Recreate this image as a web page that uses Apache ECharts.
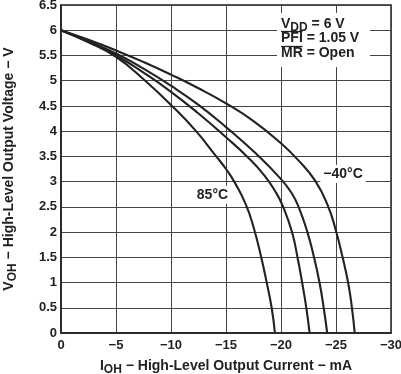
<!DOCTYPE html>
<html><head><meta charset="utf-8">
<script src="https://cdn.jsdelivr.net/npm/echarts@6/dist/echarts.min.js"></script>
<style>html,body{margin:0;padding:0;background:#fff}#c{width:401px;height:374px}</style>
</head><body><div id="c"></div>
<script>
// I_OH (mA), V_OH (V)
const curveM40 = [[0,6],[-2.5,5.81],[-5,5.6],[-7.5,5.37],[-10,5.12],[-12.5,4.85],[-15,4.55],[-17.5,4.2],[-20,3.76],[-21.5,3.44],[-23.1,3.02],[-24.3,2.5],[-25,2.02],[-25.6,1.5],[-26.1,1.0],[-26.45,0.5],[-26.7,0]];
const curveB = [[0,6],[-2.5,5.78],[-5,5.54],[-7.5,5.24],[-10,4.9],[-12.5,4.52],[-15,4.08],[-17.5,3.6],[-20,3.05],[-21,2.76],[-21.6,2.5],[-22.4,2.0],[-23.0,1.5],[-23.5,1.0],[-23.88,0.5],[-24.2,0]];
const curveC = [[0,6],[-2.5,5.77],[-5,5.5],[-7.5,5.16],[-10,4.78],[-12.5,4.35],[-15,3.88],[-17,3.48],[-18.5,3.12],[-19.5,2.8],[-20.2,2.5],[-21,2.0],[-21.5,1.5],[-21.92,1.0],[-22.3,0.5],[-22.6,0]];
const curve85 = [[0,6],[-2.5,5.76],[-5,5.47],[-7.5,5.03],[-10,4.52],[-12.2,4.02],[-14,3.53],[-15,3.25],[-15.8,2.98],[-16.8,2.55],[-17.5,2.1],[-18.2,1.5],[-18.7,1.0],[-19.15,0.5],[-19.45,0]];
const curveLabels = ['−40°C','85°C'];
const labelPoints = [[-25.64,3.15],[-13.77,2.74]];
const xTicks = [0,-5,-10,-15,-20,-25,-30];
const yTicks = [0,0.5,1,1.5,2,2.5,3,3.5,4,4.5,5,5.5,6,6.5];
const annotLines = ['= 6 V','PFI','= 1.05 V','MR','= Open'];

const FONT = 'Liberation Sans, Arial, sans-serif';
const ink = '#222';
const chart = echarts.init(document.getElementById('c'), null, {renderer:'canvas'});
const lineStyle = {color: ink, width: 2.1};
const mk = (d) => ({type:'line', data:d, showSymbol:false, smooth:0.5, lineStyle, silent:true, z:3});
const fmtX = v => v === 0 ? '0' : '−' + Math.abs(v);
const richBase = {
  a: {fontFamily: FONT, fontWeight:'bold', fontSize:14, color: ink},
  s: {fontFamily: FONT, fontWeight:'bold', fontSize:12, color: ink, padding:[7,0,0,0]}
};
chart.setOption({
  animation:false,
  backgroundColor:'#fff',
  grid:{left:61, right:10, top:5, bottom:41, outerBoundsMode:'none', containLabel:false, show:true, borderColor:ink, borderWidth:1.5, backgroundColor:'transparent'},
  xAxis:{type:'value', min:xTicks[xTicks.length-1], max:xTicks[0], interval:5, inverse:true,
    axisLine:{show:true, onZero:false, lineStyle:{color:ink, width:1.5}},
    axisTick:{show:false},
    splitLine:{show:true, lineStyle:{color:'#444', width:1}},
    axisLabel:{formatter:fmtX, fontFamily:FONT, fontWeight:'bold', fontSize:13, color:ink, margin:6},
    name:'{a|I}{s|OH}{a| − High-Level Output Current − mA}', nameLocation:'middle', nameGap:24,
    nameTextStyle:{rich:richBase}
  },
  yAxis:{type:'value', min:yTicks[0], max:yTicks[yTicks.length-1], interval:0.5,
    axisLine:{show:true, lineStyle:{color:ink, width:1.5}},
    axisTick:{show:false},
    splitLine:{show:true, lineStyle:{color:'#444', width:1}},
    axisLabel:{formatter: v => String(v), fontFamily:FONT, fontWeight:'bold', fontSize:13, color:ink, margin:4},
    name:'{a|V}{s|OH}{a| − High-Level Output Voltage − V}', nameLocation:'middle', nameGap:42, nameRotate:90,
    nameTextStyle:{rich:richBase}
  },
  series:[
    mk(curveM40), mk(curveB), mk(curveC), mk(curve85),
    {type:'scatter', symbolSize:0, silent:true, z:5, itemStyle:{opacity:1},
     data: labelPoints.map((p,i)=>({value:p, label:{show:true, position:'inside', formatter:curveLabels[i], opacity:1,
       fontFamily:FONT, fontWeight:'bold', fontSize:14, color:ink, backgroundColor:'#fff', padding:[2,3]}}))}
  ],
  graphic:[
    {type:'rect', shape:{x:277, y:13, width:93, height:54}, style:{fill:'#fff'}, z:10},
    {type:'text', x:281, y:24, z:11, style:{text:'{a|V}{s|DD}{a| '+annotLines[0]+'}', rich:{
      a:{fontFamily:FONT, fontWeight:'bold', fontSize:14, fill:ink},
      s:{fontFamily:FONT, fontWeight:'bold', fontSize:12, fill:ink, padding:[7,0,0,0]}}, verticalAlign:'middle'}},
    {type:'text', x:281, y:38.5, z:11, style:{text:annotLines[1]+' '+annotLines[2], fontFamily:FONT, fontWeight:'bold', fontSize:14, fill:ink, verticalAlign:'middle'}},
    {type:'line', z:11, shape:{x1:281, y1:31.5, x2:302.5, y2:31.5}, style:{stroke:ink, lineWidth:1.3}},
    {type:'text', x:281, y:53, z:11, style:{text:annotLines[3]+' '+annotLines[4], fontFamily:FONT, fontWeight:'bold', fontSize:14, fill:ink, verticalAlign:'middle'}},
    {type:'line', z:11, shape:{x1:281, y1:46.5, x2:302.5, y2:46.5}, style:{stroke:ink, lineWidth:1.3}}
  ]
});
</script></body></html>
